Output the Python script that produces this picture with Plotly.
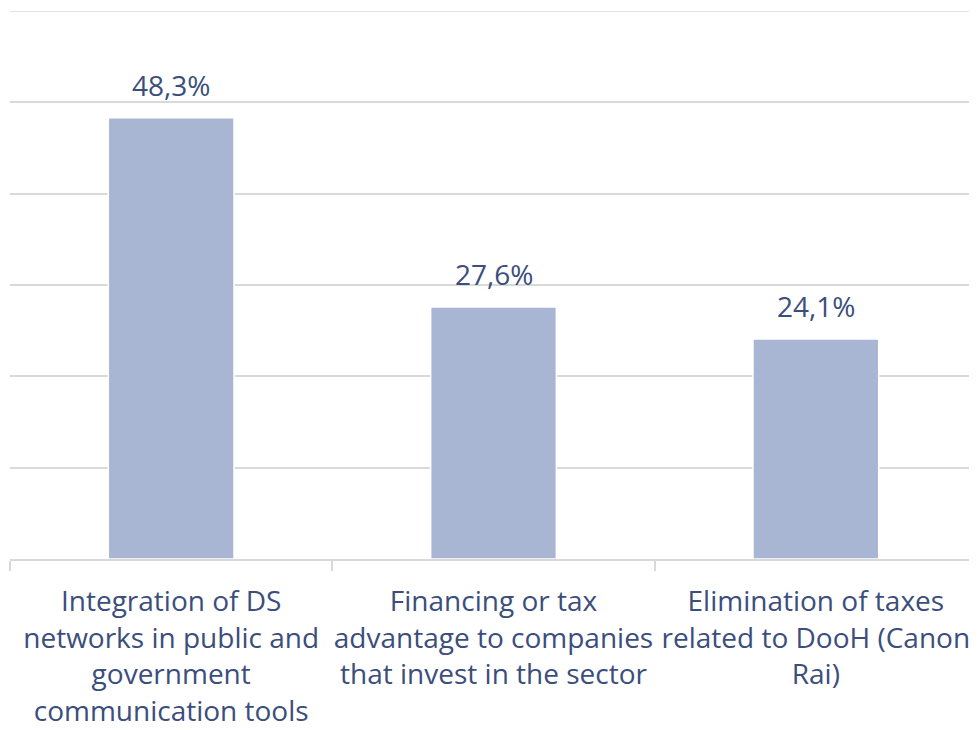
import plotly.graph_objects as go

categories = [
    "Integration of DS<br>networks in public and<br>government<br>communication tools",
    "Financing or tax<br>advantage to companies<br>that invest in the sector",
    "Elimination of taxes<br>related to DooH (Canon<br>Rai)",
]
values = [48.3, 27.6, 24.1]
labels = ["48,3%", "27,6%", "24,1%"]

text_color = "#3B4E7C"
bar_color = "#A9B6D3"
grid_color = "#D9D9D9"
font_family = "Open Sans"

fig = go.Figure(
    go.Bar(
        x=categories,
        y=values,
        marker=dict(color=bar_color, line=dict(color="white", width=1.5)),
        hoverinfo="skip",
    )
)

for cat, val, lab in zip(categories, values, labels):
    fig.add_annotation(
        x=cat, y=val, text=lab, showarrow=False,
        yanchor="bottom", yshift=12,
        font=dict(size=28, color=text_color, family=font_family),
    )

# top gridline at the edge of the plot area
fig.add_shape(
    type="line", xref="paper", x0=0, x1=1, yref="y", y0=60, y1=60,
    line=dict(color=grid_color, width=1.5), layer="below",
)

fig.update_layout(
    width=969,
    height=722,
    margin=dict(l=2, r=0, t=3, b=171),
    paper_bgcolor="white",
    plot_bgcolor="white",
    bargap=0.61,
    showlegend=False,
    font=dict(family=font_family, color=text_color, size=28),
)
fig.update_yaxes(
    range=[0, 60],
    dtick=10,
    showgrid=True,
    gridcolor=grid_color,
    gridwidth=1.5,
    showticklabels=False,
    zeroline=False,
    showline=False,
    automargin=False,
)
fig.update_xaxes(
    showline=True,
    linecolor=grid_color,
    linewidth=1.5,
    ticks="outside",
    tickson="boundaries",
    ticklen=10,
    tickcolor=grid_color,
    tickwidth=1.5,
    tickfont=dict(size=28, color=text_color, family=font_family),
    tickangle=0,
    ticklabelstandoff=17,
    automargin=False,
)

fig.write_html("out.html")
